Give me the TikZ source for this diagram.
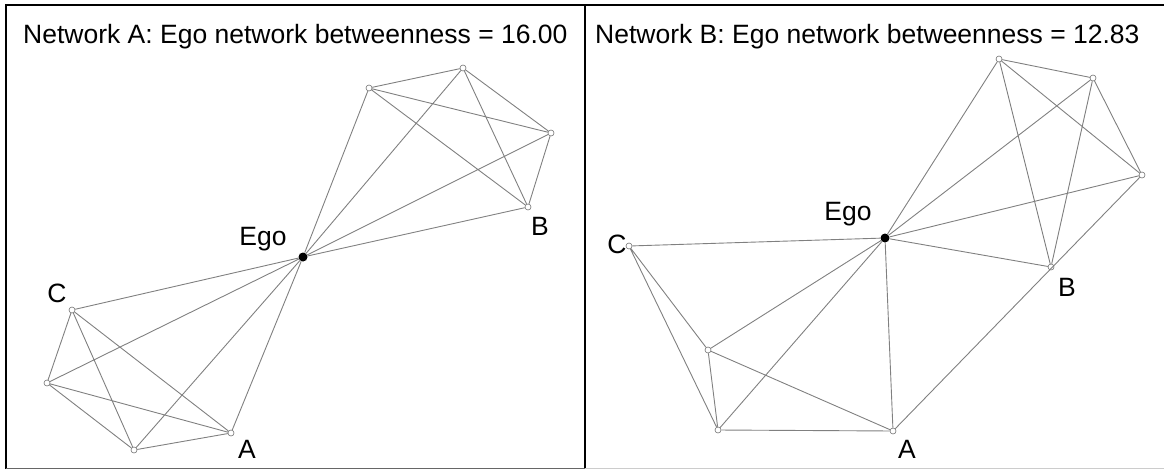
\documentclass[tikz,border=0pt]{standalone}
\usepackage{fontspec}
\setmainfont{Liberation Sans}

\begin{document}
\begin{tikzpicture}[x=1pt,y=-1pt,
    vertex/.style={circle,draw=black!55,fill=white,line width=0.6pt,inner sep=0pt,minimum size=6pt},
    egonode/.style={circle,fill=black,inner sep=0pt,minimum size=9pt},
    edge/.style={draw=black!50,line width=0.9pt},
    lbl/.style={font=\fontsize{26.5}{30}\selectfont,inner sep=0pt,anchor=base}]

\useasboundingbox (0,0) rectangle (1164,469);

% Frames
\draw[line width=1.4pt] (5,5) -- (1164,5);
\draw[line width=2pt] (6,5) -- (6,469);
\draw[line width=1.4pt] (585,5) -- (585,469);
\draw[black!60,line width=1pt] (6,468) -- (585,468);
\draw[black!20,line width=1pt] (585,468) -- (1164,468);

% Network A
\node[lbl,anchor=base west] (titleA) at (23,43) {Network A: Ego network betweenness = 16.00};
\node[egonode] (aEgo) at (303,257) {};
\node[vertex] (aC) at (72,310) {};
\node[vertex] (aL) at (47,383) {};
\node[vertex] (aBot) at (134,450) {};
\node[vertex] (aA) at (231,433) {};
\node[vertex] (aTL) at (369,88) {};
\node[vertex] (aT) at (463,68) {};
\node[vertex] (aR) at (551,133) {};
\node[vertex] (aB) at (528,207) {};

\draw[edge] (aEgo) -- (aC) (aEgo) -- (aL) (aEgo) -- (aBot) (aEgo) -- (aA)
    (aC) -- (aL) (aC) -- (aBot) (aC) -- (aA)
    (aL) -- (aBot) (aL) -- (aA) (aBot) -- (aA);
\draw[edge] (aEgo) -- (aTL) (aEgo) -- (aT) (aEgo) -- (aR) (aEgo) -- (aB)
    (aTL) -- (aT) (aTL) -- (aR) (aTL) -- (aB)
    (aT) -- (aR) (aT) -- (aB) (aR) -- (aB);

\node[lbl] (labCa) at (57,302) {C};
\node[lbl] (labAa) at (247,458) {A};
\node[lbl] (labBa) at (540,235) {B};
\node[lbl] (labEa) at (263,245) {Ego};

% Network B
\node[lbl,anchor=base west] (titleB) at (595,43) {Network B: Ego network betweenness = 12.83};
\node[egonode] (bEgo) at (885,238) {};
\node[vertex] (bC) at (629,246) {};
\node[vertex] (bML) at (708,350) {};
\node[vertex] (bBL) at (718,430) {};
\node[vertex] (bA) at (893,431) {};
\node[vertex] (bB) at (1051,267) {};
\node[vertex] (bT) at (999,59) {};
\node[vertex] (bUR) at (1093,78) {};
\node[vertex] (bR) at (1142,175) {};

\draw[edge] (bEgo) -- (bC) (bEgo) -- (bML) (bEgo) -- (bBL) (bEgo) -- (bA)
    (bC) -- (bML) (bC) -- (bBL)
    (bML) -- (bBL) (bML) -- (bA) (bBL) -- (bA);
\draw[edge] (bEgo) -- (bT) (bEgo) -- (bUR) (bEgo) -- (bR) (bEgo) -- (bB)
    (bT) -- (bUR) (bT) -- (bR) (bT) -- (bB)
    (bUR) -- (bR) (bUR) -- (bB) (bA) -- (bR);

\node[lbl] (labCb) at (617,253) {C};
\node[lbl] (labEb) at (848,220) {Ego};
\node[lbl] (labBb) at (1067,296) {B};
\node[lbl] (labAb) at (907,458) {A};

\end{tikzpicture}
\end{document}
